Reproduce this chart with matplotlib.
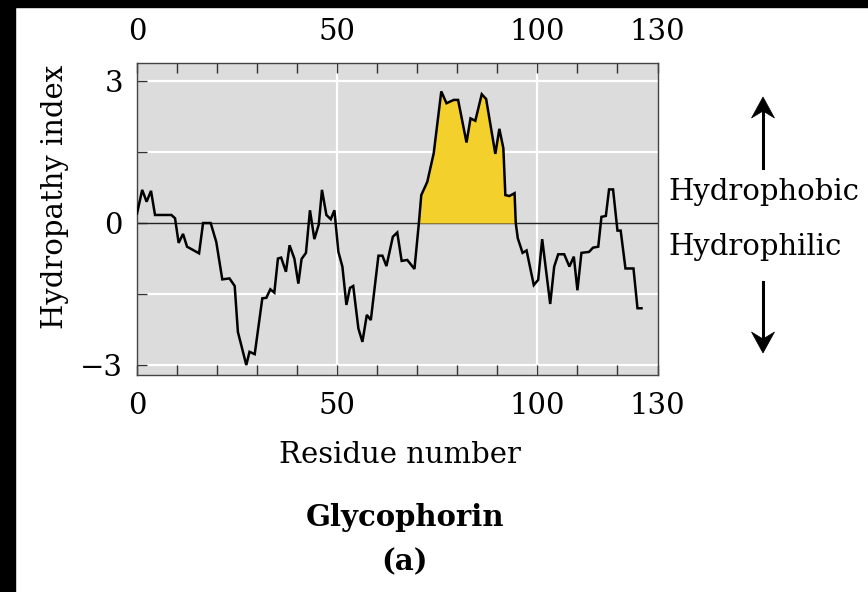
import numpy as np
import matplotlib
matplotlib.use("Agg")
import matplotlib.pyplot as plt
from matplotlib.patches import Rectangle, Polygon
from matplotlib.lines import Line2D
from matplotlib.ticker import FixedLocator

plt.rcParams['font.family'] = ['DejaVu Serif']
plt.rcParams['mathtext.fontset'] = 'dejavuserif'

# ---- data ----
residue = [0, 1.3, 2.4, 3.5, 4.5, 8.6, 9.5, 10.4, 11.5, 12.5, 15.5, 16.5, 18.4, 19.8,
           21.3, 23.1, 24.4, 25.2, 27.3, 28.1, 29.4, 31.3, 32.3, 33.3, 34.3, 35.2, 36.0,
           37.2, 38.1, 39.3, 40.3, 41.1, 42.2, 43.2, 44.3, 45.4, 46.2, 47.3, 48.4, 49.3,
           50.3, 51.3, 52.3, 53.2, 54.0, 55.3, 56.3, 57.4, 58.4, 60.3, 61.3, 62.3, 63.9,
           65.0, 66.1, 67.5, 69.3, 70.4, 71.0, 72.5, 74.1, 76.0, 77.3, 79.1, 80.2, 82.3,
           83.3, 84.5, 86.1, 87.2, 89.5, 90.5, 91.5, 92.0, 93.0, 94.3, 94.6, 95.1, 96.3,
           97.3, 99.1, 100.2, 101.2, 103.2, 104.2, 105.2, 106.7, 108.0, 109.1, 110.0,
           111.0, 112.9, 113.9, 115.2, 116.0, 117.1, 117.9, 118.9, 120.0, 120.8, 122.0,
           124.0, 125.0, 126.0]
hydropathy = [0.2, 0.70, 0.45, 0.68, 0.17, 0.17, 0.1, -0.42, -0.23, -0.5, -0.64, 0.0, 0.0, -0.4,
              -1.19, -1.17, -1.33, -2.3, -3.0, -2.72, -2.77, -1.59, -1.58, -1.40, -1.47, -0.75, -0.73,
              -1.03, -0.47, -0.75, -1.28, -0.76, -0.63, 0.27, -0.34, -0.03, 0.70, 0.17, 0.08, 0.27,
              -0.61, -0.92, -1.73, -1.37, -1.33, -2.23, -2.51, -1.94, -2.05, -0.69, -0.69, -0.91, -0.29,
              -0.2, -0.80, -0.78, -0.97, 0.0, 0.59, 0.87, 1.47, 2.78, 2.53, 2.60, 2.60, 1.70,
              2.21, 2.16, 2.72, 2.62, 1.46, 1.99, 1.58, 0.59, 0.57, 0.63, 0.0, -0.32, -0.63,
              -0.58, -1.31, -1.2, -0.34, -1.71, -0.92, -0.66, -0.66, -0.92, -0.71, -1.42,
              -0.63, -0.61, -0.52, -0.5, 0.13, 0.15, 0.71, 0.71, -0.16, -0.16, -0.96,
              -0.96, -1.8, -1.8]
helix_range = (69.0, 96.0)   # transmembrane segment that is shaded

x_major = [0, 50, 100, 130]
x_minor = [10, 20, 30, 40, 60, 70, 80, 90, 110, 120]
y_major = [-3, 0, 3]
y_minor = [-1.5, 1.5]
h_grid = [-3, -1.5, 1.5, 3]
v_grid = [50, 100]

# ---- figure ----
W, H = 868, 592
fig = plt.figure(figsize=(W / 100, H / 100), dpi=100, facecolor='white')
# black strips of the scanned page
fig.patches.append(Rectangle((0, 0), 15 / W, 1, transform=fig.transFigure, color='black', zorder=0))
fig.patches.append(Rectangle((0, 1 - 7 / H), 1, 7 / H, transform=fig.transFigure, color='black', zorder=0))

ax = fig.add_axes([137 / W, 1 - 375 / H, (657.5 - 137) / W, (375 - 63) / H])
ax.set_facecolor('#dcdcdc')
ax.set_xlim(0, 130)
ax.set_ylim(-3.21, 3.38)

for g in h_grid:
    ax.axhline(g, color='white', lw=1.6, zorder=1)
for g in v_grid:
    ax.axvline(g, color='white', lw=1.6, zorder=1)
ax.axhline(0, color='#222222', lw=1.0, zorder=2)

x = np.array(residue)
y = np.array(hydropathy)
ax.fill_between(x, y, 0, where=(y > 0) & (x > helix_range[0]) & (x < helix_range[1]),
                interpolate=True, color='#f3d02c', lw=0, zorder=3)
ax.plot(x, y, color='black', lw=1.8, zorder=4, solid_joinstyle='miter')

for s in ax.spines.values():
    s.set_color('#444444')
    s.set_linewidth(1.0)

fs = 21
ax.xaxis.set_major_locator(FixedLocator(x_major))
ax.xaxis.set_minor_locator(FixedLocator(x_minor))
ax.yaxis.set_major_locator(FixedLocator(y_major))
ax.yaxis.set_minor_locator(FixedLocator(y_minor))
ax.set_xticklabels([str(v) for v in x_major])
ax.set_yticklabels(['\u22123', '0', '3'])
ax.tick_params(axis='x', which='both', direction='in', top=True, bottom=True,
               labeltop=True, length=7, width=1.0, color='#333333', labelsize=fs, pad=12)
ax.tick_params(axis='y', which='both', direction='in', left=True, right=False,
               length=7, width=1.0, color='#333333', labelsize=fs, pad=10)
for lab in ax.xaxis.get_majorticklabels():
    pass

fig.text(400 / W, 1 - 455 / H, 'Residue number', ha='center', va='center', fontsize=fs)
fig.text(405 / W, 1 - 517 / H, 'Glycophorin', ha='center', va='center', fontsize=fs, fontweight='bold')
fig.text(405 / W, 1 - 562 / H, '(a)', ha='center', va='center', fontsize=fs, fontweight='bold')
fig.text(55 / W, 1 - 197 / H, 'Hydropathy index', ha='center', va='center', fontsize=fs, rotation=90)
fig.text(668 / W, 1 - 192 / H, 'Hydrophobic', ha='left', va='center', fontsize=fs)
fig.text(668 / W, 1 - 247 / H, 'Hydrophilic', ha='left', va='center', fontsize=fs)


def px_arrow(xc, tip, tail):
    """Arrow in figure pixel coordinates (y measured from the top)."""
    d = 1 if tail > tip else -1
    fx = lambda v: v / W
    fy = lambda v: 1 - v / H
    fig.add_artist(Line2D([fx(xc), fx(xc)], [fy(tip + d * 10), fy(tail)],
                          transform=fig.transFigure, color='black', lw=2.2))
    head = [(fx(xc), fy(tip)), (fx(xc - 11.5), fy(tip + d * 21)),
            (fx(xc), fy(tip + d * 14)), (fx(xc + 11.5), fy(tip + d * 21))]
    fig.add_artist(Polygon(head, closed=True, transform=fig.transFigure,
                           facecolor='black', edgecolor='black', lw=0.5))


px_arrow(763, 97, 168)
px_arrow(763, 353, 282)

fig.savefig('out.png', dpi=100, facecolor='white')
